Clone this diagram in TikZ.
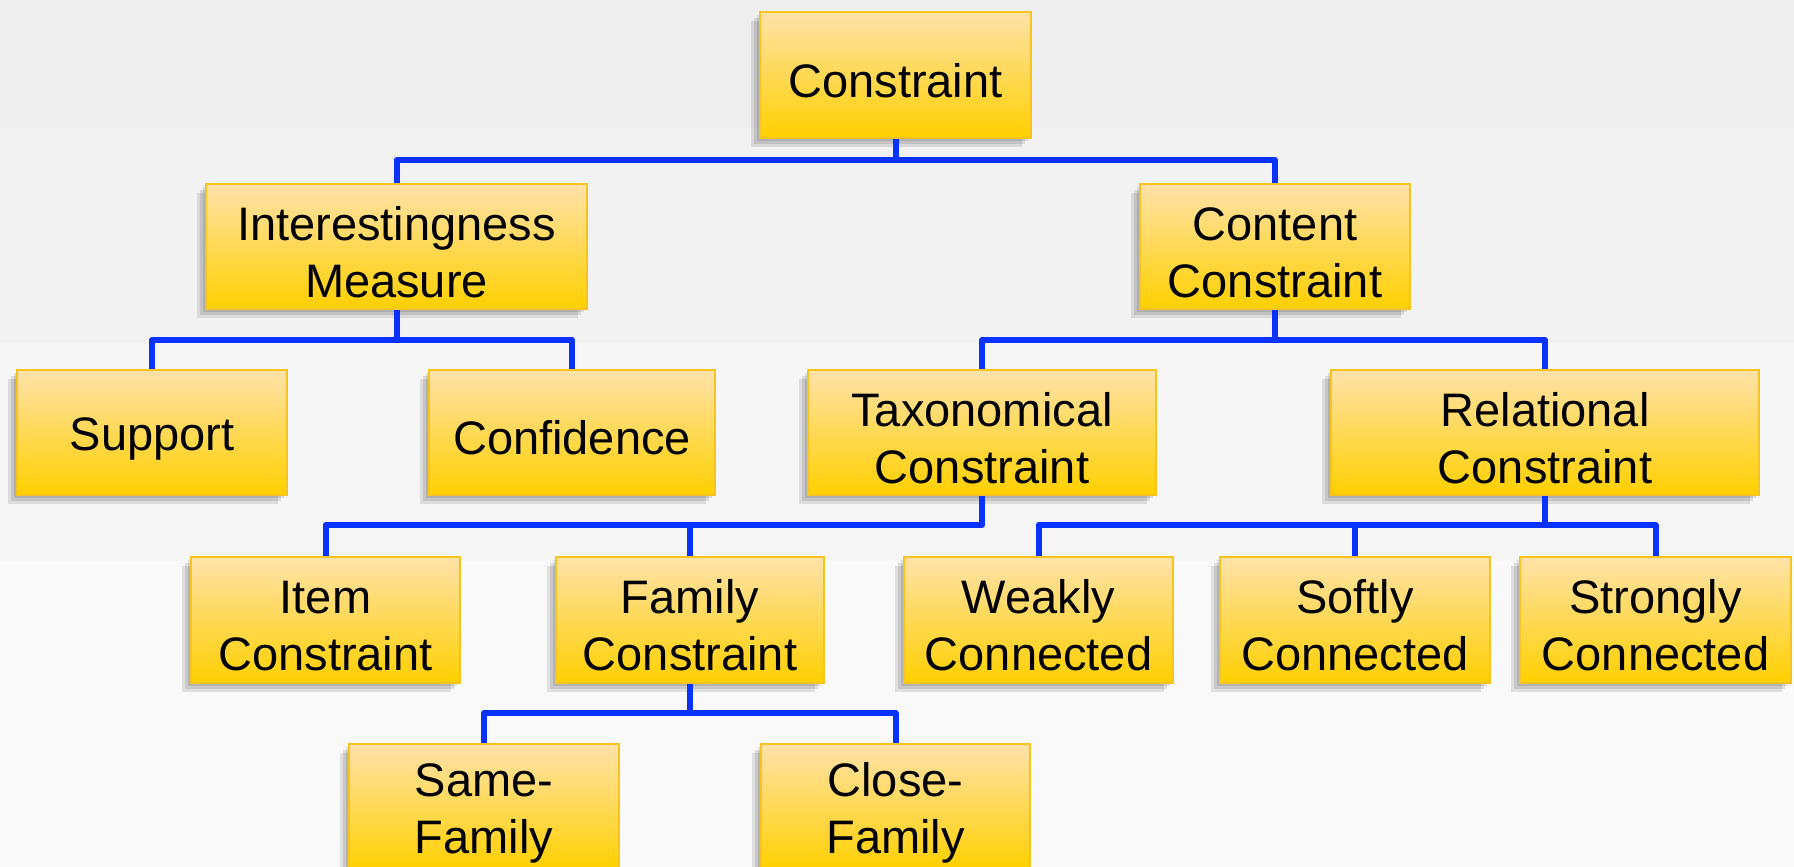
\documentclass[tikz,border=0pt]{standalone}
\usepackage{fontspec}
\setmainfont{Liberation Sans}
\definecolor{bgA}{HTML}{EEEEEE}
\definecolor{bgB}{HTML}{F2F2F2}
\definecolor{bgC}{HTML}{F6F6F6}
\definecolor{bgD}{HTML}{F9F9F9}
\definecolor{boxtop}{HTML}{FFE2AA}
\definecolor{boxbot}{HTML}{FFD000}
\definecolor{boxline}{HTML}{F7C41F}
\definecolor{linkblue}{HTML}{0A32FF}
\newcommand{\upstrut}{\rule{0pt}{22.5pt}}
\begin{document}
\begin{tikzpicture}[x=0.5pt,y=-0.5pt,
  shlayer/.style={preaction={fill=black, fill opacity=0.1, draw=none, transform canvas={shift={(#1)}}}},
  cbox/.style={rectangle, draw=boxline, line width=1pt, top color=boxtop, bottom color=boxbot,
    align=center, inner sep=0pt, font=\fontsize{23.5}{28.5}\selectfont,
    shlayer={-1.5pt,-1.5pt}, shlayer={-3pt,-3pt}, shlayer={-4.5pt,-4.5pt}},
  sz/.style 2 args={minimum width=#1*0.5pt, minimum height=#2*0.5pt},
  link/.style={draw=linkblue, line width=3pt, line join=round}]
\useasboundingbox (0,0) rectangle (1794,867);
\fill[bgA] (0,0) rectangle (1794,128);
\fill[bgB] (0,128) rectangle (1794,343);
\fill[bgC] (0,343) rectangle (1794,561);
\fill[bgD] (0,561) rectangle (1794,867);

\node[cbox, sz={271}{126}] (con) at (895.5,75) {\upstrut Constraint};
\node[cbox, sz={381}{125}] (int) at (396.5,246.5) {\upstrut Interestingness\\Measure};
\node[cbox, sz={270}{125}] (cc) at (1275,246.5) {\upstrut Content\\Constraint};
\node[cbox, sz={270}{125}] (sup) at (152,432.5) {\upstrut Support};
\node[cbox, sz={286}{125}] (conf) at (572,432.5) {\upstrut Confidence};
\node[cbox, sz={348}{125}] (tax) at (982,432.5) {\upstrut Taxonomical\\Constraint};
\node[cbox, sz={428}{125}] (rel) at (1545,432.5) {\upstrut Relational\\Constraint};
\node[cbox, sz={269}{126}] (item) at (325.5,620) {\upstrut Item\\Constraint};
\node[cbox, sz={268}{126}] (fam) at (690,620) {\upstrut Family\\Constraint};
\node[cbox, sz={269}{126}] (weak) at (1038.5,620) {\upstrut Weakly\\Connected};
\node[cbox, sz={270}{126}] (soft) at (1355,620) {\upstrut Softly\\Connected};
\node[cbox, sz={271}{126}] (strong) at (1655.5,620) {\upstrut Strongly\\Connected};
\node[cbox, sz={270}{126}] (same) at (484,807) {\upstrut Same-\\Family};
\node[cbox, sz={269}{126}] (close) at (895.5,807) {\upstrut Close-\\Family};

\coordinate (b1) at (0,160);
\coordinate (b2) at (0,340);
\coordinate (b3) at (0,525);
\coordinate (b4) at (0,713);

\draw[link] (con.south) -- (con.south |- b1) -| (int.north);
\draw[link] (con.south |- b1) -| (cc.north);
\draw[link] (int.south) -- (int.south |- b2) -| (sup.north);
\draw[link] (int.south |- b2) -| (conf.north);
\draw[link] (cc.south) -- (cc.south |- b2) -| (tax.north);
\draw[link] (cc.south |- b2) -| (rel.north);
\draw[link] (tax.south) -- (tax.south |- b3) -| (item.north);
\draw[link] (tax.south |- b3) -| (fam.north);
\draw[link] (rel.south) -- (rel.south |- b3) -| (weak.north);
\draw[link] (rel.south |- b3) -| (strong.north);
\draw[link] (soft.north) -- (soft.north |- b3);
\draw[link] (fam.south) -- (fam.south |- b4) -| (same.north);
\draw[link] (fam.south |- b4) -| (close.north);
\end{tikzpicture}
\end{document}
